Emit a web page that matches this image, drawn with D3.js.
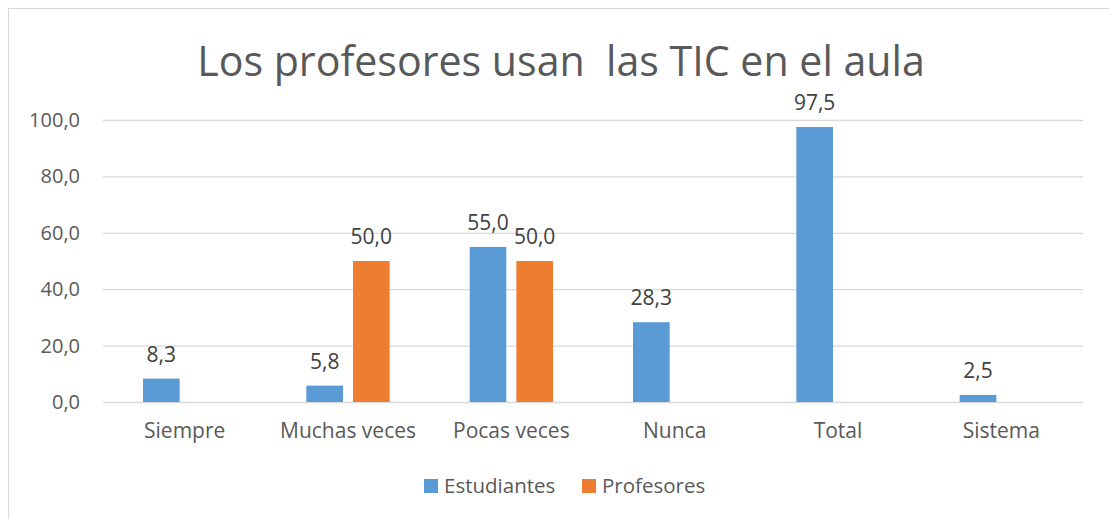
<!DOCTYPE html>
<html>
<head>
<meta charset="utf-8">
<script src="https://cdn.jsdelivr.net/npm/d3@7"></script>
<style>
  body { margin: 0; background: #fff; }
  svg { display: block; font-family: "Open Sans", sans-serif; }
</style>
</head>
<body>
<div id="chart"></div>
<script>
// chart data
var title = "Los profesores usan\u00a0 las TIC en el aula";
var categories = ["Siempre", "Muchas veces", "Pocas veces", "Nunca", "Total", "Sistema"];
var series = ["Estudiantes", "Profesores"];
var estudiantes = [8.3, 5.8, 55.0, 28.3, 97.5, 2.5];
var profesores = [null, 50.0, 50.0, null, null, null];
var yTicks = [0, 20, 40, 60, 80, 100];
var colors = ["#5b9bd5", "#ed7d31"];

var width = 1109;
var height = 519;

var plot = {left: 103, right: 1083, top: 120, bottom: 402};

var svg = d3.select("#chart")
  .append("svg")
    .attr("width", width)
    .attr("height", height);

// outer chart border (only top and left are inside the picture)
svg.append("rect")
    .attr("x", 8.5)
    .attr("y", 8.5)
    .attr("width", width + 20)
    .attr("height", height + 20)
    .attr("fill", "#fff")
    .attr("stroke", "#d9d9d9")
    .attr("stroke-width", 1);

var x0 = d3.scaleBand()
    .domain(categories)
    .range([plot.left, plot.right])
    .padding(0);

var x1 = d3.scaleBand()
    .domain(series)
    .range([0, x0.bandwidth()])
    .paddingInner(0.214)
    .paddingOuter(0.857);

var y = d3.scaleLinear()
    .domain([0, 100])
    .range([plot.bottom, plot.top]);

var fmt = function(v) { return d3.format(".1f")(v).replace(".", ","); };

// gridlines + y axis labels
var yAxis = d3.axisLeft(y)
    .tickValues(yTicks)
    .tickSize(-(plot.right - plot.left))
    .tickPadding(23)
    .tickFormat(fmt);

var gy = svg.append("g")
    .attr("transform", "translate(" + plot.left + ",0)")
    .call(yAxis);
gy.select(".domain").remove();
gy.selectAll(".tick line")
    .attr("stroke", "#d9d9d9")
    .attr("stroke-width", 1.3);
gy.selectAll(".tick text")
    .attr("fill", "#595959")
    .attr("font-size", 20)
    .attr("font-family", "Open Sans, sans-serif");

// x axis labels
var xAxis = d3.axisBottom(x0)
    .tickSize(0)
    .tickPadding(21);
var gx = svg.append("g")
    .attr("transform", "translate(0," + plot.bottom + ")")
    .call(xAxis);
gx.select(".domain").remove();
gx.selectAll(".tick text")
    .attr("fill", "#595959")
    .attr("font-size", 21)
    .attr("font-family", "Open Sans, sans-serif");

// bars
var seriesData = [estudiantes, profesores];
for (var s = 0; s < series.length; s++) {
    var rows = categories.map(function(c, i) {
        return {cat: c, value: seriesData[s][i]};
    }).filter(function(d) { return d.value != null; });

    var g = svg.append("g");
    g.selectAll("rect")
        .data(rows)
      .enter()
        .append("rect")
        .attr("x", function(d) { return x0(d.cat) + x1(series[s]); })
        .attr("y", function(d) { return y(d.value); })
        .attr("width", x1.bandwidth())
        .attr("height", function(d) { return y(0) - y(d.value); })
        .attr("fill", colors[s]);

    g.selectAll("text")
        .data(rows)
      .enter()
        .append("text")
        .attr("x", function(d) { return x0(d.cat) + x1(series[s]) + x1.bandwidth() / 2; })
        .attr("y", function(d) { return y(d.value) - 17; })
        .attr("text-anchor", "middle")
        .attr("fill", "#404040")
        .attr("font-size", 21)
        .text(function(d) { return fmt(d.value); });
}

// title
var t = svg.append("text")
    .attr("x", 561)
    .attr("y", 76)
    .attr("text-anchor", "middle")
    .attr("fill", "#595959")
    .attr("font-size", 40)
    .text(title);
var tl = t.node().getComputedTextLength();
t.attr("font-size", 40 * 728 / tl);

// legend
var legendX = [424, 582];
series.forEach(function(name, i) {
    svg.append("rect")
        .attr("x", legendX[i])
        .attr("y", 479)
        .attr("width", 14)
        .attr("height", 14)
        .attr("fill", colors[i]);
    svg.append("text")
        .attr("x", legendX[i] + 20)
        .attr("y", 493)
        .attr("fill", "#595959")
        .attr("font-size", 20.5)
        .text(name);
});
</script>
</body>
</html>
